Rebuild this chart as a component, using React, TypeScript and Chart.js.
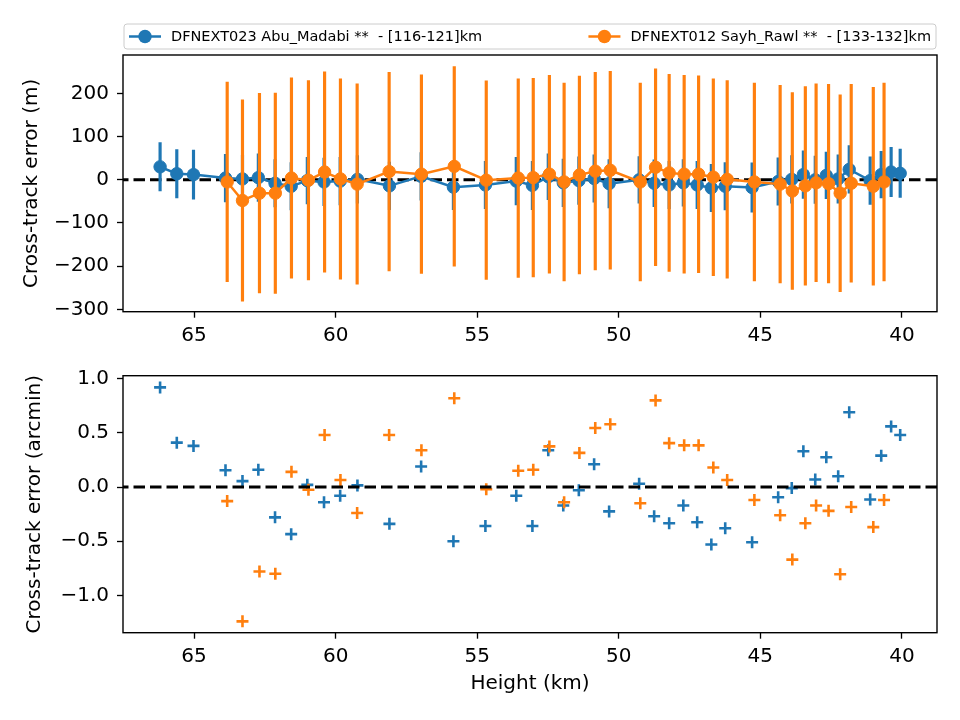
import React, { useEffect, useRef } from 'react';
import { Chart, registerables } from 'chart.js';

Chart.register(...registerables);

// ---------- data ----------
const SERIES_A_LABEL = 'DFNEXT023 Abu_Madabi **  - [116-121]km';
const SERIES_B_LABEL = 'DFNEXT012 Sayh_Rawl **  - [133-132]km';

const heightsA = [66.20, 65.61, 65.02, 63.89, 63.29, 62.73, 62.14, 61.57, 61.00, 60.41, 59.84, 59.23, 58.10, 56.98, 55.84, 54.71, 53.62, 53.05, 52.49, 51.96, 51.41, 50.87, 50.34, 49.28, 48.75, 48.22, 47.72, 47.23, 46.73, 46.24, 45.29, 44.37, 43.89, 43.48, 43.06, 42.67, 42.25, 41.86, 41.12, 40.73, 40.38, 40.06];
const errorMetresA = [30, 14, 12, 4, 2, 5, -8, -15, -2, -5, -3, 1, -14, 8, -17, -12, -3, -13, 7, -7, -2, 3, -9, 0, -8, -12, -7, -12, -19, -15, -18, -4, 1, 12, 0, 10, 2, 24, -2, 12, 18, 15];
const sigmaMetresA = [56, 56, 57, 55, 55, 55, 55, 55, 54, 55, 55, 55, 55, 55, 52, 55, 55, 56, 53, 55, 55, 55, 56, 54, 54, 55, 54, 55, 55, 55, 57, 55, 55, 55, 55, 54, 56, 55, 55, 54, 57, 56];
const errorArcminA = [0.92, 0.41, 0.38, 0.155, 0.055, 0.16, -0.28, -0.435, 0.02, -0.14, -0.08, 0.015, -0.34, 0.19, -0.50, -0.36, -0.08, -0.36, 0.34, -0.17, -0.03, 0.21, -0.225, 0.03, -0.27, -0.335, -0.17, -0.325, -0.53, -0.38, -0.51, -0.095, -0.01, 0.33, 0.07, 0.275, 0.10, 0.69, -0.115, 0.29, 0.56, 0.48];

const heightsB = [63.83, 63.29, 62.69, 62.13, 61.56, 60.96, 60.39, 59.83, 59.24, 58.11, 56.97, 55.81, 54.68, 53.55, 53.02, 52.45, 51.93, 51.39, 50.83, 50.30, 49.24, 48.70, 48.22, 47.69, 47.18, 46.66, 46.17, 45.21, 44.30, 43.87, 43.41, 43.03, 42.59, 42.18, 41.79, 41.01, 40.63];
const errorMetresB = [-5, -48, -31, -31, 4, -1, 18, 2, -10, 19, 13, 31, -1, 4, 5, 13, -5, 11, 20, 22, -5, 29, 16, 13, 13, 6, 1, -5, -10, -26, -14, -7, -9, -31, -8, -15, -5];
const sigmaMetresB = [231, 233, 231, 232, 232, 231, 232, 232, 232, 230, 230, 231, 230, 230, 230, 229, 229, 229, 229, 229, 229, 228, 228, 229, 228, 228, 229, 229, 229, 228, 230, 229, 230, 228, 229, 229, 229];
const errorArcminB = [-0.13, -1.24, -0.78, -0.80, 0.14, -0.025, 0.48, 0.065, -0.24, 0.48, 0.34, 0.82, -0.02, 0.15, 0.16, 0.375, -0.14, 0.315, 0.545, 0.58, -0.15, 0.80, 0.405, 0.385, 0.385, 0.18, 0.065, -0.12, -0.26, -0.67, -0.335, -0.17, -0.22, -0.805, -0.185, -0.37, -0.12];

const X_TICKS = [65, 60, 55, 50, 45, 40];
const TOP_Y_TICKS = [200, 100, 0, -100, -200, -300];
const BOTTOM_Y_TICKS = [1.0, 0.5, 0.0, -0.5, -1.0];
const X_MIN = 38.76;
const X_MAX = 67.51;
const TOP_Y_MIN = -305.5;
const TOP_Y_MAX = 289;
const BOTTOM_Y_MIN = -1.345;
const BOTTOM_Y_MAX = 1.028;
const REFERENCE_VALUE = 0;

const X_TITLE = 'Height (km)';
const TOP_Y_TITLE = 'Cross-track error (m)';
const BOTTOM_Y_TITLE = 'Cross-track error (arcmin)';

// ---------- style ----------
const BLUE = '#1f77b4';
const ORANGE = '#ff7f0e';
const FONT = "'DejaVu Sans', 'Liberation Sans', sans-serif";
const TICK_FONT = { family: FONT, size: 20 };
const LEGEND_FONT_PX = 14.5;

const minusFmt = (v: number, digits: number) =>
  (v < 0 ? '\u2212' : '') + Math.abs(v).toFixed(digits);

const framePlugin = {
  id: 'mplFrame',
  afterDatasetsDraw(chart: any) {
    const { ctx, chartArea: a } = chart;
    ctx.save();
    ctx.strokeStyle = '#000';
    ctx.lineWidth = 1.4;
    ctx.strokeRect(a.left, a.top, a.right - a.left, a.bottom - a.top);
    ctx.restore();
  },
};

const legendPlugin = {
  id: 'mplLegend',
  afterDraw(chart: any) {
    const { ctx, chartArea } = chart;
    const items = chart.data.datasets.filter((d: any) => d.inLegend);
    const left = chartArea.left + 1;
    const right = chartArea.right - 1;
    const top = 24;
    const bottom = 49;
    ctx.save();
    ctx.beginPath();
    if (ctx.roundRect) ctx.roundRect(left, top, right - left, bottom - top, 3);
    else ctx.rect(left, top, right - left, bottom - top);
    ctx.fillStyle = 'rgba(255,255,255,0.8)';
    ctx.fill();
    ctx.strokeStyle = '#cccccc';
    ctx.lineWidth = 1;
    ctx.stroke();
    ctx.font = `${LEGEND_FONT_PX}px ${FONT}`;
    ctx.textBaseline = 'middle';
    const cy = (top + bottom) / 2;
    items.forEach((d: any, i: number) => {
      const textX = i === 0 ? left + 47 : right - 5 - ctx.measureText(d.label).width;
      const hx0 = textX - 42;
      const hx1 = textX - 10;
      ctx.strokeStyle = d.borderColor;
      ctx.lineWidth = 2.5;
      ctx.beginPath();
      ctx.moveTo(hx0, cy);
      ctx.lineTo(hx1, cy);
      ctx.stroke();
      ctx.beginPath();
      ctx.arc((hx0 + hx1) / 2, cy, 6.7, 0, Math.PI * 2);
      ctx.fillStyle = d.borderColor;
      ctx.fill();
      ctx.fillStyle = '#000';
      ctx.fillText(d.label, textX, cy + 1);
    });
    ctx.restore();
  },
};

const gridOpts = {
  display: true,
  drawOnChartArea: false,
  drawTicks: true,
  tickLength: 6,
  tickWidth: 1.33,
  tickColor: '#000',
};

function xScale(axisHeight: number, withTitle: boolean) {
  return {
    type: 'linear',
    reverse: true,
    min: X_MIN,
    max: X_MAX,
    offset: false,
    grid: { ...gridOpts, offset: false },
    border: { display: false },
    afterBuildTicks: (scale: any) => {
      scale.ticks = X_TICKS.map((v) => ({ value: v }));
    },
    afterFit: (scale: any) => {
      scale.height = axisHeight;
    },
    ticks: {
      padding: 6,
      color: '#000',
      font: TICK_FONT,
      maxRotation: 0,
      autoSkip: false,
      callback: (v: any) => String(v),
    },
    title: {
      display: withTitle,
      text: X_TITLE,
      color: '#000',
      font: TICK_FONT,
      padding: { top: 0, bottom: 24 },
    },
  };
}

function yScale(min: number, max: number, ticks: number[], digits: number, title: string, titlePad: number) {
  return {
    type: 'linear',
    min,
    max,
    grid: gridOpts,
    border: { display: false },
    afterBuildTicks: (scale: any) => {
      scale.ticks = ticks.map((v) => ({ value: v }));
    },
    afterFit: (scale: any) => {
      scale.width = 123;
    },
    ticks: {
      padding: 8,
      color: '#000',
      font: TICK_FONT,
      autoSkip: false,
      callback: (v: any) => minusFmt(Number(v), digits),
    },
    title: {
      display: true,
      text: title,
      color: '#000',
      font: TICK_FONT,
      padding: { top: titlePad, bottom: 0 },
    },
  };
}

function topConfig(): any {
  const toPts = (xs: number[], ys: number[]) => xs.map((x, i) => ({ x, y: ys[i] }));
  const toBars = (xs: number[], ys: number[], s: number[]) =>
    xs.map((x, i) => ({ x, y: [ys[i] - s[i], ys[i] + s[i]] }));
  return {
    type: 'line',
    data: {
      datasets: [
        {
          type: 'line',
          data: [
            { x: X_MIN, y: REFERENCE_VALUE },
            { x: X_MAX, y: REFERENCE_VALUE },
          ],
          borderColor: '#000',
          borderWidth: 3,
          borderDash: [11.5, 5],
          pointRadius: 0,
          order: 10,
        },
        {
          type: 'bar',
          data: toBars(heightsA, errorMetresA, sigmaMetresA),
          backgroundColor: BLUE,
          borderWidth: 0,
          barThickness: 2.5,
          grouped: false,
          order: 9,
        },
        {
          type: 'line',
          label: SERIES_A_LABEL,
          inLegend: true,
          data: toPts(heightsA, errorMetresA),
          borderColor: BLUE,
          backgroundColor: BLUE,
          borderWidth: 2.5,
          pointRadius: 6.2,
          pointBorderWidth: 1,
          pointBackgroundColor: BLUE,
          pointBorderColor: BLUE,
          tension: 0,
          order: 8,
        },
        {
          type: 'bar',
          data: toBars(heightsB, errorMetresB, sigmaMetresB),
          backgroundColor: ORANGE,
          borderWidth: 0,
          barThickness: 2.5,
          grouped: false,
          order: 7,
        },
        {
          type: 'line',
          label: SERIES_B_LABEL,
          inLegend: true,
          data: toPts(heightsB, errorMetresB),
          borderColor: ORANGE,
          backgroundColor: ORANGE,
          borderWidth: 2.5,
          pointRadius: 6.2,
          pointBorderWidth: 1,
          pointBackgroundColor: ORANGE,
          pointBorderColor: ORANGE,
          tension: 0,
          order: 6,
        },
      ],
    },
    options: {
      animation: false,
      responsive: false,
      devicePixelRatio: 1,
      events: [],
      layout: { padding: { top: 55, right: 23, left: 0, bottom: 0 } },
      plugins: { legend: { display: false }, tooltip: { enabled: false } },
      scales: {
        x: xScale(38.3, false),
        y: yScale(TOP_Y_MIN, TOP_Y_MAX, TOP_Y_TICKS, 0, TOP_Y_TITLE, 20),
      },
    },
    plugins: [framePlugin, legendPlugin],
  };
}

function bottomConfig(): any {
  const toPts = (xs: number[], ys: number[]) => xs.map((x, i) => ({ x, y: ys[i] }));
  return {
    type: 'line',
    data: {
      datasets: [
        {
          type: 'line',
          data: [
            { x: X_MIN, y: REFERENCE_VALUE },
            { x: X_MAX, y: REFERENCE_VALUE },
          ],
          borderColor: '#000',
          borderWidth: 3,
          borderDash: [11.5, 5],
          pointRadius: 0,
          order: 1,
        },
        {
          type: 'scatter',
          data: toPts(heightsA, errorArcminA),
          pointStyle: 'cross',
          pointRadius: 6,
          pointBorderWidth: 2.6,
          pointBorderColor: BLUE,
          borderColor: BLUE,
          backgroundColor: BLUE,
          showLine: false,
          order: 3,
        },
        {
          type: 'scatter',
          data: toPts(heightsB, errorArcminB),
          pointStyle: 'cross',
          pointRadius: 6,
          pointBorderWidth: 2.6,
          pointBorderColor: ORANGE,
          borderColor: ORANGE,
          backgroundColor: ORANGE,
          showLine: false,
          order: 2,
        },
      ],
    },
    options: {
      animation: false,
      responsive: false,
      devicePixelRatio: 1,
      events: [],
      layout: { padding: { top: 25.7, right: 23, left: 0, bottom: 0 } },
      plugins: { legend: { display: false }, tooltip: { enabled: false } },
      scales: {
        x: xScale(87.3, true),
        y: yScale(BOTTOM_Y_MIN, BOTTOM_Y_MAX, BOTTOM_Y_TICKS, 1, BOTTOM_Y_TITLE, 23),
      },
    },
    plugins: [framePlugin],
  };
}

export default function App() {
  const topRef = useRef<HTMLCanvasElement>(null);
  const bottomRef = useRef<HTMLCanvasElement>(null);

  useEffect(() => {
    const top = new Chart(topRef.current as HTMLCanvasElement, topConfig());
    const bottom = new Chart(bottomRef.current as HTMLCanvasElement, bottomConfig());
    return () => {
      top.destroy();
      bottom.destroy();
    };
  }, []);

  return (
    <div style={{ position: 'absolute', left: 0, top: 0, width: 960, height: 720, background: '#fff' }}>
      <canvas ref={topRef} width={960} height={350} style={{ position: 'absolute', left: 0, top: 0 }} />
      <canvas ref={bottomRef} width={960} height={370} style={{ position: 'absolute', left: 0, top: 350 }} />
    </div>
  );
}
